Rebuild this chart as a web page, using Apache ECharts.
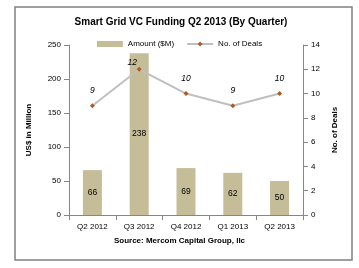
<!DOCTYPE html>
<html><head><meta charset="utf-8">
<script src="https://cdn.jsdelivr.net/npm/echarts@6/dist/echarts.min.js"></script>
<style>html,body{margin:0;padding:0;background:#fff}#c{width:359px;height:268px}</style>
</head><body><div id="c"></div>
<script>
const categories = ['Q2 2012','Q3 2012','Q4 2012','Q1 2013','Q2 2013'];
const amounts = [66, 238, 69, 62, 50];
const deals = [9, 12, 10, 9, 10];
const chart = echarts.init(document.getElementById('c'));
const F = 'Liberation Sans';
chart.setOption({
  animation: false,
  textStyle: {fontFamily: F},
  title: {
    text: 'Smart Grid VC Funding Q2 2013 (By Quarter)',
    left: 176, top: 12, textAlign: 'center',
    textStyle: {fontFamily: F, fontSize: 10, fontWeight: 'bold', color: '#000'}
  },
  legend: {
    top: 35, left: 'center', itemGap: 12, itemWidth: 26, itemHeight: 6,
    textStyle: {fontFamily: F, fontSize: 8, color: '#000'},
    data: [{name: 'Amount ($M)', icon: 'rect'}, {name: 'No. of Deals'}]
  },
  graphic: [
    {type: 'rect', shape: {x: 15, y: 7, width: 337, height: 253}, style: {fill: 'none', stroke: '#808080', lineWidth: 1.5}, silent: true},
    {type: 'text', left: 'center', top: 237, style: {text: 'Source: Mercom Capital Group, llc', font: 'bold 8px "Liberation Sans"', fill: '#000'}}
  ],
  grid: {left: 69, right: 56, top: 45, bottom: 53},
  xAxis: {
    type: 'category', data: categories,
    axisLine: {lineStyle: {color: '#868686'}},
    axisTick: {show: true, lineStyle: {color: '#868686'}},
    axisLabel: {fontSize: 8, color: '#000', margin: 8}
  },
  yAxis: [
    {type: 'value', min: 0, max: 250, interval: 50, name: 'US$ in Million', nameLocation: 'middle', nameGap: 36, nameRotate: 90,
     nameTextStyle: {fontSize: 8, fontWeight: 'bold', color: '#000'},
     axisLine: {show: true, lineStyle: {color: '#868686'}}, axisTick: {show: true, lineStyle: {color: '#868686'}},
     splitLine: {show: false}, axisLabel: {fontSize: 8, color: '#000', margin: 8}},
    {type: 'value', min: 0, max: 14, interval: 2, name: 'No. of Deals', nameLocation: 'middle', nameGap: 27, nameRotate: 90,
     nameTextStyle: {fontSize: 8, fontWeight: 'bold', color: '#000'},
     axisLine: {show: true, lineStyle: {color: '#868686'}}, axisTick: {show: true, lineStyle: {color: '#868686'}},
     splitLine: {show: false}, axisLabel: {fontSize: 8, color: '#000', margin: 8}}
  ],
  series: [
    {name: 'Amount ($M)', type: 'bar', data: amounts, barWidth: 19, itemStyle: {color: '#C4BD97'},
     label: {show: true, position: 'inside', fontSize: 8.5, color: '#000'}},
    {name: 'No. of Deals', type: 'line', yAxisIndex: 1,
     data: deals.map((v, i) => i === 1 ? {value: v, label: {offset: [-7, 8]}} : v),
     symbol: 'diamond', symbolSize: 5,
     lineStyle: {color: '#BFBFBF', width: 2}, itemStyle: {color: '#B35A1F'},
     label: {show: true, position: 'top', distance: 8, fontSize: 8.5, fontStyle: 'italic', color: '#000'}}
  ]
});
</script></body></html>
